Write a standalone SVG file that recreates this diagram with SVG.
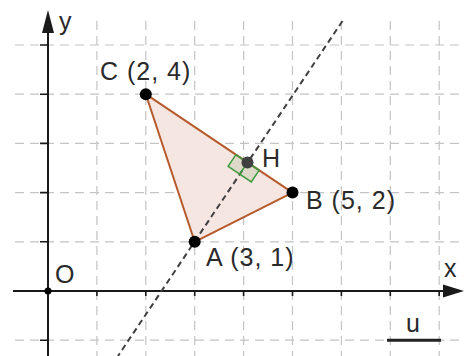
<svg xmlns="http://www.w3.org/2000/svg" width="464" height="356" viewBox="0 0 464 356">
<defs>
<style>
.grid{stroke:#c4c4c4;stroke-width:1.2;stroke-dasharray:9,6;fill:none}
.axis{stroke:#1a1a1a;stroke-width:2;fill:none}
.tick{stroke:#1a1a1a;stroke-width:1.6}
.lbl{font-family:"Liberation Sans",Arial,sans-serif;font-size:25px;fill:#2a2a2a}
.coord{letter-spacing:1px}
.pt{fill:#000}
</style>
</defs>
<rect width="464" height="356" fill="#fff"/>
<g id="grid">
<path class="grid" d="M15 45H464M15 94.2H464M15 143.4H464M15 192.6H464M15 241.8H464M15 340.2H464"/>
<path class="grid" d="M96.9 21V356M145.8 21V356M194.7 21V356M243.6 21V356M292.5 21V356M341.4 21V356M390.3 21V356M439.2 21V356"/>
</g>
<g id="axes">
<path class="axis" d="M13 291H446M48 356V30"/>
<polygon points="464,291 443,284.5 443,297.5" fill="#1a1a1a"/>
<polygon points="48,10 42,33 54,33" fill="#1a1a1a"/>
<path class="tick" d="M96.9 291v5M145.8 291v5M194.7 291v5M243.6 291v5M292.5 291v5M341.4 291v5M390.3 291v5M439.2 291v5M40 45h8M40 94.2h8M40 143.4h8M40 192.6h8M40 241.8h8M40 340.2h8"/>
<text class="lbl" x="444" y="277">x</text>
<text class="lbl" x="59" y="30">y</text>
</g>
<g id="triangle">
<polygon points="194.7,241.8 292.5,192.6 145.8,94.2" fill="#f5e6e1" stroke="#b65a2c" stroke-width="2" stroke-linejoin="round"/>
</g>
<g id="connectors">
<line x1="342.5" y1="21" x2="118" y2="356" stroke="#404040" stroke-width="2" stroke-dasharray="6,4"/>
</g>
<g id="right-angle">
<polygon points="235.9,154.7 259.1,170.3 251.3,181.9 228.1,166.3" fill="#5a9a4a" fill-opacity="0.15" stroke="#3a9a3a" stroke-width="1.5"/>
<line x1="247.5" y1="162.5" x2="239.7" y2="174.1" stroke="#3a9a3a" stroke-width="1.5"/>
</g>
<g id="O">
<circle cx="48" cy="291" r="3.5" class="pt"/>
<text class="lbl" x="55" y="283">O</text>
</g>
<g id="A">
<circle cx="194.7" cy="241.8" r="6" class="pt"/>
<text class="lbl coord" x="206" y="266">A (3, 1)</text>
</g>
<g id="B">
<circle cx="292.5" cy="192.6" r="6" class="pt"/>
<text class="lbl coord" x="306" y="209">B (5, 2)</text>
</g>
<g id="C">
<circle cx="145.8" cy="94.2" r="6" class="pt"/>
<text class="lbl coord" x="100" y="80">C (2, 4)</text>
</g>
<g id="H">
<circle cx="247.5" cy="162.5" r="6" fill="#404040"/>
<text class="lbl" x="262" y="167">H</text>
</g>
<g id="u">
<line x1="387" y1="340.2" x2="441" y2="340.2" stroke="#222" stroke-width="3"/>
<text class="lbl" x="406" y="332">u</text>
</g>
</svg>
